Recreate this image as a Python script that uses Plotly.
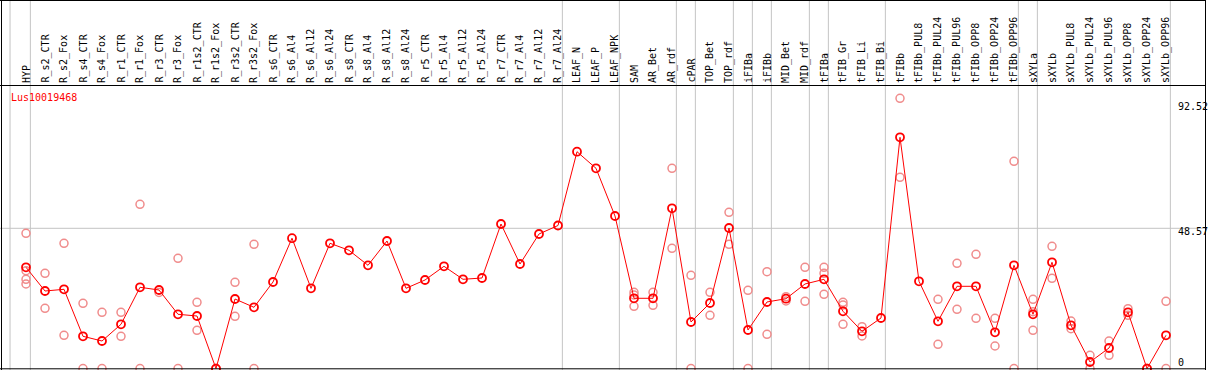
import plotly.graph_objects as go

categories = ["HYP", "R_s2_CTR", "R_s2_Fox", "R_s4_CTR", "R_s4_Fox", "R_r1_CTR", "R_r1_Fox",
              "R_r3_CTR", "R_r3_Fox", "R_r1s2_CTR", "R_r1s2_Fox", "R_r3s2_CTR", "R_r3s2_Fox",
              "R_s6_CTR", "R_s6_Al4", "R_s6_Al12", "R_s6_Al24", "R_s8_CTR", "R_s8_Al4", "R_s8_Al12",
              "R_s8_Al24", "R_r5_CTR", "R_r5_Al4", "R_r5_Al12", "R_r5_Al24", "R_r7_CTR", "R_r7_Al4",
              "R_r7_Al12", "R_r7_Al24", "LEAF_N", "LEAF_P", "LEAF_NPK", "SAM", "AR_Bet", "AR_rdf",
              "cPAR", "TOP_Bet", "TOP_rdf", "iFIBa", "iFIBb", "MID_Bet", "MID_rdf", "tFIBa",
              "tFIB_Gr", "tFIB_Li", "tFIB_Bi", "tFIBb", "tFIBb_PUL8", "tFIBb_PUL24", "tFIBb_PUL96",
              "tFIBb_OPP8", "tFIBb_OPP24", "tFIBb_OPP96", "sXYLa", "sXYLb", "sXYLb_PUL8",
              "sXYLb_PUL24", "sXYLb_PUL96", "sXYLb_OPP8", "sXYLb_OPP24", "sXYLb_OPP96"]

mean_values = [35.07, 26.86, 27.45, 11.18, 9.55, 15.34, 28.15, 27.21, 18.80, 18.21, 0.0,
               24.09, 21.22, 29.98, 45.14, 27.80, 43.38, 40.95, 35.76, 44.17, 27.80, 30.67,
               35.41, 30.91, 31.36, 50.06, 36.21, 46.60, 49.54, 75.09, 69.34, 52.83, 24.34,
               24.34, 55.49, 16.13, 22.71, 48.67, 13.36, 23.06, 24.20, 29.29, 30.91, 19.84,
               12.91, 17.52, 80.07, 30.22, 16.37, 28.49, 28.49, 12.57, 35.76, 18.80, 36.80,
               14.99, 2.28, 7.13, 19.49, 0.0, 11.53]

replicate_values = [
    [46.84, 33.89, 30.91, 29.29], [32.99, 20.88], [43.38, 11.53], [22.61, 0.0], [19.49, 0.0],
    [19.49, 11.18], [56.88, 0.0], [26.34], [38.18, 0.0], [22.95, 13.26], [0.0, 0.0],
    [29.88, 18.11], [43.03, 0.0],
    [], [], [], [], [], [], [], [], [], [], [], [], [], [], [], [],
    [], [], [],
    [26.41, 25.48, 21.57], [26.41, 21.91], [69.34, 41.65],
    [32.30, 0.0], [26.41, 18.45], [54.11, 43.03],
    [27.11, 0.0], [33.55, 11.87], [24.89, 23.40], [35.07, 23.30],
    [35.07, 32.99, 25.72], [22.95, 22.02, 15.34], [14.51, 11.29], [],
    [93.57, 66.23], [], [23.99, 8.41], [36.45, 20.53], [39.57, 17.41], [17.41, 7.82], [71.77, 0.0],
    [23.99, 19.70, 13.26],
    [42.34, 31.26], [16.48, 13.81], [4.60, 0.0], [9.55, 4.60], [20.74, 18.45], [0.0, 0.0],
    [23.30, 0.0],
]

gene_name = "Lus10019468"
y_tick_values = [92.52, 48.57, 0]
y_tick_labels = ["92.52", "48.57", "0"]
# indices of last category in each group (separator drawn after it)
group_ends = [-1, 0, 28, 31, 34, 35, 37, 38, 39, 41, 42, 45, 52, 53, 60]

W, H = 1209, 370
X0, DX = 26.0, 19.0          # pixel of first category, pixel step
Y0, SY = 368.6, 2.8886       # pixel of value 0, pixels per unit


def py2paper(py):
    return 1 - py / H


x_range = [(0 - X0) / DX, (W - X0) / DX]
y_range = [(Y0 - H) / SY, Y0 / SY]

idx = list(range(len(categories)))
rep_x, rep_y = [], []
for i, reps in enumerate(replicate_values):
    for v in reps:
        rep_x.append(i)
        rep_y.append(v)

fig = go.Figure()
fig.add_trace(go.Scatter(x=rep_x, y=rep_y, mode="markers",
                         marker=dict(symbol="circle-open", size=8, color="#f08c8c",
                                     line=dict(width=1.5, color="#f08c8c")),
                         hoverinfo="skip", showlegend=False))
fig.add_trace(go.Scatter(x=idx, y=mean_values, mode="lines+markers",
                         line=dict(color="#ff0000", width=1),
                         marker=dict(symbol="circle-open", size=8, color="#ff0000",
                                     line=dict(width=1.8, color="#ff0000")),
                         showlegend=False))

shapes = []
# vertical group separators
for g in group_ends:
    xv = g + 0.23 if g >= 0 else -0.84
    shapes.append(dict(type="line", xref="x", yref="paper", x0=xv, x1=xv, y0=0, y1=1,
                       line=dict(color="#c4c4c4", width=1), layer="below"))
# horizontal grid line at middle tick
shapes.append(dict(type="line", xref="paper", yref="y", x0=0, x1=1205.5 / W,
                   y0=y_tick_values[1], y1=y_tick_values[1],
                   line=dict(color="#c4c4c4", width=1), layer="below"))
# borders
blk = dict(color="#000000", width=1)
shapes += [
    dict(type="line", xref="paper", yref="paper", x0=0, x1=1205.5 / W,
         y0=py2paper(0.5), y1=py2paper(0.5), line=blk),
    dict(type="line", xref="paper", yref="paper", x0=0, x1=1205.5 / W,
         y0=py2paper(85.5), y1=py2paper(85.5), line=blk),
    dict(type="line", xref="paper", yref="paper", x0=0, x1=1205.5 / W,
         y0=py2paper(368.8), y1=py2paper(368.8), line=blk),
    dict(type="line", xref="paper", yref="paper", x0=1.5 / W, x1=1.5 / W,
         y0=0, y1=1, line=blk),
    dict(type="line", xref="paper", yref="paper", x0=1205.5 / W, x1=1205.5 / W,
         y0=0, y1=1, line=blk),
]

mono = "DejaVu Sans Mono, Liberation Mono, monospace"
annotations = []
for i, c in enumerate(categories):
    annotations.append(dict(x=i, xref="x", y=py2paper(84), yref="paper", text=c,
                            textangle=-90, xanchor="center", yanchor="bottom",
                            showarrow=False, borderpad=0,
                            font=dict(family=mono, size=10, color="#000000")))
annotations.append(dict(x=10 / W, xref="paper", y=py2paper(98), yref="paper",
                        text=gene_name, xanchor="left", yanchor="middle", showarrow=False,
                        borderpad=0, font=dict(family=mono, size=10, color="#ff0000")))
label_py = [106.7, 231.7, 362.0]
for lab, py in zip(y_tick_labels, label_py):
    annotations.append(dict(x=1177 / W, xref="paper", y=py2paper(py), yref="paper",
                            text=lab, xanchor="left", yanchor="middle", showarrow=False,
                            borderpad=0, font=dict(family=mono, size=10, color="#000000")))

fig.update_layout(
    width=W, height=H, margin=dict(l=0, r=0, t=0, b=0),
    paper_bgcolor="#ffffff", plot_bgcolor="#ffffff",
    xaxis=dict(range=x_range, visible=False, fixedrange=True),
    yaxis=dict(range=y_range, visible=False, fixedrange=True),
    shapes=shapes, annotations=annotations,
)

fig.write_html("out.html", config={"displayModeBar": False},
               post_script="document.body.style.margin='0';document.body.style.padding='0';document.body.style.overflow='hidden';")
